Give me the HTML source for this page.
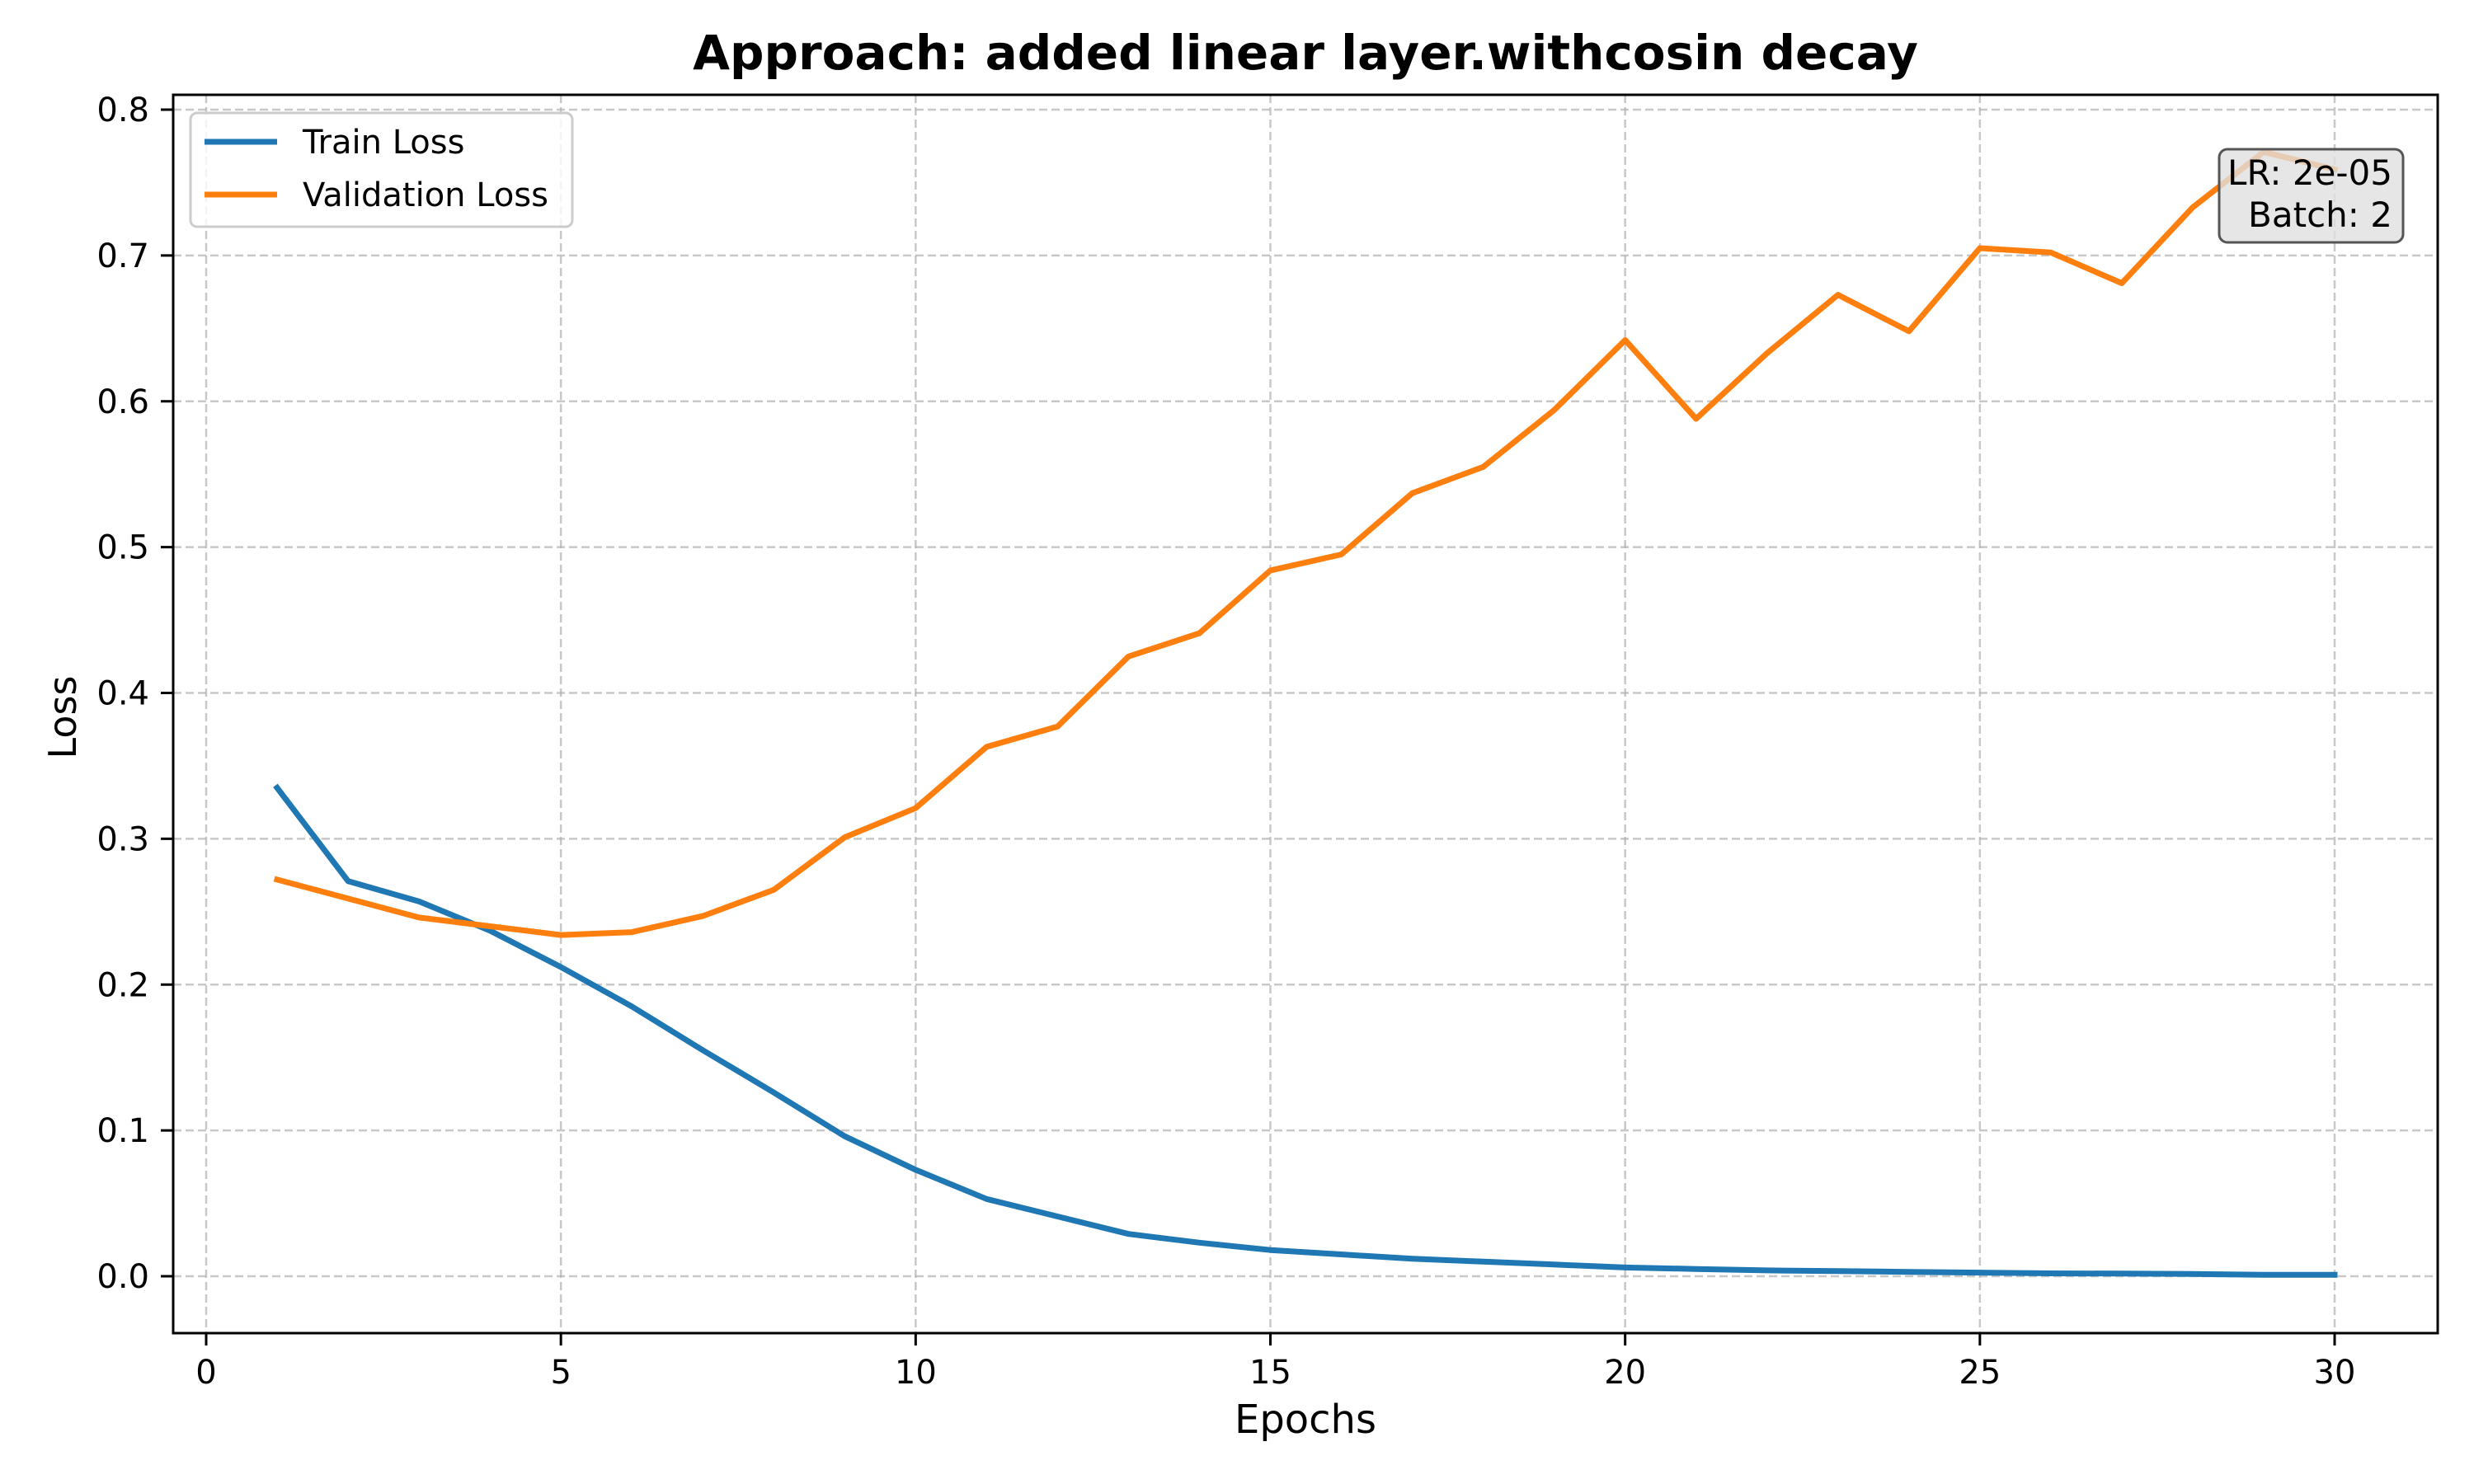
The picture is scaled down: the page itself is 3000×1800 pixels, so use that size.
<!DOCTYPE html>
<html><head><meta charset="utf-8"><style>
html,body{margin:0;padding:0;background:#fff;}
svg{display:block;font-family:"DejaVu Sans","Liberation Sans",sans-serif;}
</style></head><body>
<svg id="chart" width="3000" height="1800" viewBox="0 0 3000 1800">
<rect width="3000" height="1800" fill="#fff"/>
<text x="1583" y="84" text-anchor="middle" font-size="58" font-weight="bold">Approach: added linear layer.withcosin decay</text>
<g id="grid"></g>
<g id="series"></g>
<rect x="210" y="115" width="2746" height="1502" fill="none" stroke="#000" stroke-width="3"/>
<g id="ticks"></g>
<text x="1583" y="1738" text-anchor="middle" font-size="48">Epochs</text>
<text transform="translate(92,870) rotate(-90)" text-anchor="middle" font-size="46">Loss</text>
<g>
<rect x="231" y="137" width="463" height="138" rx="8" fill="#fff" fill-opacity="0.8" stroke="#ccc" stroke-width="3"/>
<g>
<line x1="248" y1="172" x2="336" y2="172" stroke="#1f77b4" stroke-width="7"/>
<text x="367" y="186" font-size="40">Train Loss</text></g>
<g>
<line x1="248" y1="236" x2="336" y2="236" stroke="#ff7f0e" stroke-width="7"/>
<text x="367" y="250" font-size="40">Validation Loss</text></g>
</g>
<g>
<rect x="2691" y="181" width="223" height="113" rx="10" fill="#e0e0e0" fill-opacity="0.8" stroke="#555" stroke-width="3"/>
<text x="2901" y="224" text-anchor="end" font-size="42">LR: 2e-05</text>
<text x="2901" y="275" text-anchor="end" font-size="42">Batch: 2</text>
</g>
</svg>
<script>
const epochs=[1,2,3,4,5,6,7,8,9,10,11,12,13,14,15,16,17,18,19,20,21,22,23,24,25,26,27,28,29,30];
const trainLoss=[0.335,0.271,0.257,0.237,0.212,0.185,0.155,0.126,0.096,0.073,0.053,0.041,0.029,0.023,0.018,0.015,0.012,0.010,0.008,0.006,0.005,0.004,0.0035,0.003,0.0025,0.002,0.0018,0.0015,0.001,0.001];
const valLoss=[0.272,0.259,0.246,0.240,0.234,0.236,0.247,0.265,0.301,0.321,0.363,0.377,0.425,0.441,0.484,0.495,0.537,0.555,0.594,0.642,0.588,0.633,0.673,0.648,0.705,0.702,0.681,0.733,0.771,0.759];
const xTicks=[0,5,10,15,20,25,30];
const yTicks=[0.0,0.1,0.2,0.3,0.4,0.5,0.6,0.7,0.8];
const NS='http://www.w3.org/2000/svg';
function X(v){return 250+v*(2831-250)/30;}
function Y(v){return 1548-v*(1548-133)/0.8;}
function mk(tag,attrs,parent){const e=document.createElementNS(NS,tag);for(const k in attrs)e.setAttribute(k,attrs[k]);parent.appendChild(e);return e;}
const grid=document.getElementById('grid'),ticks=document.getElementById('ticks'),series=document.getElementById('series');
xTicks.forEach(t=>{
 const g=mk('line',{x1:X(t),x2:X(t),y1:115,y2:1617,stroke:'#b0b0b0','stroke-width':2.5,'stroke-dasharray':'10,5','stroke-opacity':0.7},grid);
 
 
 const tk=mk('line',{x1:X(t),x2:X(t),y1:1617,y2:1632,stroke:'#000','stroke-width':3},ticks);
 
 
 const tx=mk('text',{x:X(t),y:1678,'text-anchor':'middle','font-size':40},ticks);tx.textContent=t;
 
 
});
yTicks.forEach(t=>{
 const g=mk('line',{x1:210,x2:2956,y1:Y(t),y2:Y(t),stroke:'#b0b0b0','stroke-width':2.5,'stroke-dasharray':'10,5','stroke-opacity':0.7},grid);
 
 
 const tk=mk('line',{x1:195,x2:210,y1:Y(t),y2:Y(t),stroke:'#000','stroke-width':3},ticks);
 
 
 const tx=mk('text',{x:181,y:Y(t)+14,'text-anchor':'end','font-size':40},ticks);tx.textContent=t.toFixed(1);
 
 
});
function line(vals,color,name){
 const d=vals.map((v,i)=>(i?'L':'M')+X(epochs[i]).toFixed(1)+','+Y(v).toFixed(1)).join(' ');
 const p=mk('path',{d:d,fill:'none',stroke:color,'stroke-width':7,'stroke-linejoin':'round','stroke-linecap':'square'},series);
 
 
}
line(trainLoss,'#1f77b4','train-loss-line');
line(valLoss,'#ff7f0e','validation-loss-line');
</script>
</body></html>
